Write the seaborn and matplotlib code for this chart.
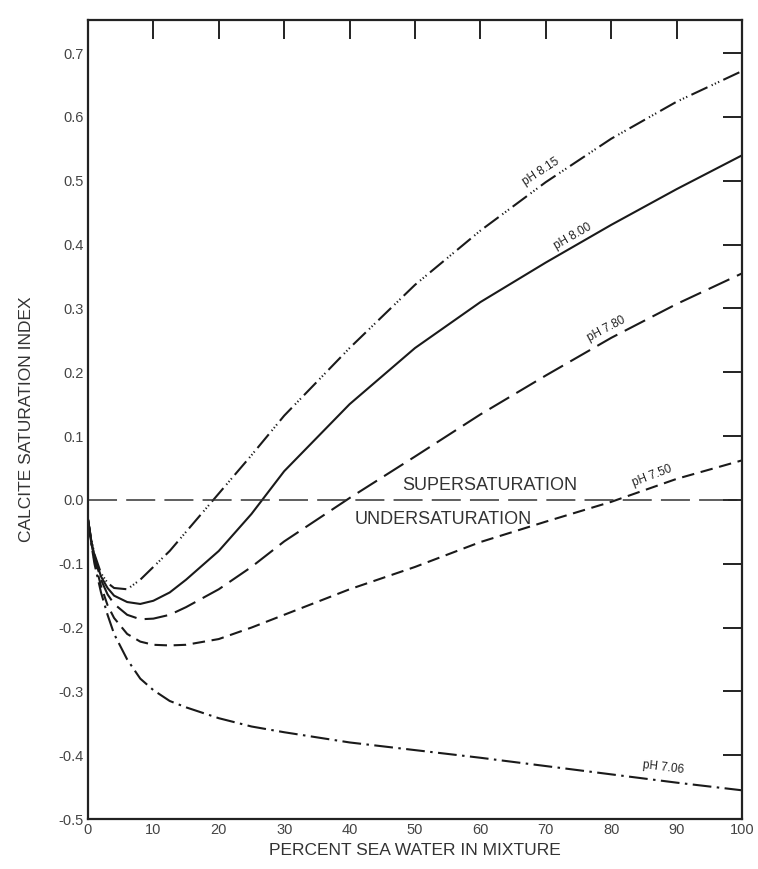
import numpy as np
import pandas as pd
import matplotlib
matplotlib.use("Agg")
import matplotlib.pyplot as plt
import seaborn as sns

# ---- data ----
x_pct = [0, 0.5, 1, 2, 3, 4, 6, 8, 10, 12.5, 15, 20, 25, 30, 40, 50, 60, 70, 80, 90, 100]

ph_815 = [-0.03, -0.062, -0.085, -0.115, -0.13, -0.138, -0.14, -0.125, -0.105, -0.08, -0.05,
          0.01, 0.07, 0.132, 0.238, 0.337, 0.422, 0.498, 0.566, 0.624, 0.672]
ph_800 = [-0.03, -0.063, -0.088, -0.12, -0.138, -0.15, -0.16, -0.163, -0.158, -0.145, -0.125,
          -0.08, -0.022, 0.045, 0.15, 0.238, 0.31, 0.372, 0.431, 0.487, 0.54]
ph_780 = [-0.03, -0.064, -0.09, -0.125, -0.148, -0.163, -0.18, -0.187, -0.186, -0.18, -0.168,
          -0.14, -0.105, -0.065, 0.003, 0.068, 0.134, 0.195, 0.254, 0.307, 0.355]
ph_750 = [-0.03, -0.066, -0.095, -0.135, -0.165, -0.185, -0.21, -0.222, -0.227, -0.228, -0.227,
          -0.218, -0.20, -0.18, -0.14, -0.105, -0.066, -0.034, -0.003, 0.033, 0.062]
ph_706 = [-0.03, -0.068, -0.10, -0.145, -0.18, -0.21, -0.25, -0.28, -0.298, -0.315, -0.325,
          -0.342, -0.355, -0.364, -0.38, -0.392, -0.404, -0.417, -0.43, -0.443, -0.455]

curve_labels = ["pH 8.15", "pH 8.00", "pH 7.80", "pH 7.50", "pH 7.06"]

x_ticks = [0, 10, 20, 30, 40, 50, 60, 70, 80, 90, 100]
x_ticklabels = ["0", "10", "20", "30", "40", "50", "60", "70", "80", "90", "100"]
y_ticks = [-0.5, -0.4, -0.3, -0.2, -0.1, 0.0, 0.1, 0.2, 0.3, 0.4, 0.5, 0.6, 0.7]
y_ticklabels = ["-0.5", "-0.4", "-0.3", "-0.2", "-0.1", "0.0", "0.1", "0.2",
                "0.3", "0.4", "0.5", "0.6", "0.7"]

# ---- styling ----
sns.set_theme(style="white")
plt.rcParams["font.family"] = ["Liberation Sans", "DejaVu Sans"]

fig = plt.figure(figsize=(7.58, 8.69), dpi=100)
ax = fig.add_axes([0.116, 0.0575, 0.863, 0.9195])

series = [ph_815, ph_800, ph_780, ph_750, ph_706]
styles = [
    (0, (8.5, 2.2, 0.6, 1.1, 0.6, 1.1, 0.6, 2.2)),
    "-",
    (0, (11, 4)),
    (0, (6, 3.2)),
    (0, (9, 2.6, 1.2, 2.6)),
]
lw = 1.5
for vals, lab, ls in zip(series, curve_labels, styles):
    df = pd.DataFrame({"pct": x_pct, "si": vals})
    sns.lineplot(data=df, x="pct", y="si", ax=ax, color="#1a1a1a", linewidth=lw,
                 linestyle=ls, estimator=None, sort=True)

ax.axhline(0.0, color="#333333", linewidth=1.1, linestyle=(0, (19, 6)))

# curve labels
lab_pos = [(69.3, 0.514, 33), (74.2, 0.412, 30), (79.3, 0.268, 28), (86.2, 0.038, 21), (88.0, -0.42, -7)]
for (lx, ly, rot), lab in zip(lab_pos, curve_labels):
    ax.text(lx, ly, lab, rotation=rot, rotation_mode="anchor", ha="center", va="center",
            fontsize=8.5, color="#222222")

ax.text(61.5, 0.022, "SUPERSATURATION", ha="center", va="center", fontsize=13, color="#333333")
ax.text(54.3, -0.031, "UNDERSATURATION", ha="center", va="center", fontsize=13, color="#333333")

ax.set_xlim(0, 100)
ax.set_ylim(-0.5, 0.752)
ax.set_xticks(x_ticks)
ax.set_xticklabels(x_ticklabels)
ax.set_yticks(y_ticks)
ax.set_yticklabels(y_ticklabels)
ax.tick_params(direction="in", top=True, right=True, labeltop=False, labelright=False,
               length=14, width=1.4, color="#222222", labelsize=10.5, labelcolor="#444444", pad=3)
for sp in ax.spines.values():
    sp.set_visible(True)
    sp.set_linewidth(1.6)
    sp.set_color("#222222")

ax.set_xlabel("PERCENT SEA WATER IN MIXTURE", fontsize=12.5, color="#333333", labelpad=4)
ax.set_ylabel("CALCITE SATURATION INDEX", fontsize=12.5, color="#333333", labelpad=18)

fig.savefig("out.png", dpi=100, facecolor="white")
